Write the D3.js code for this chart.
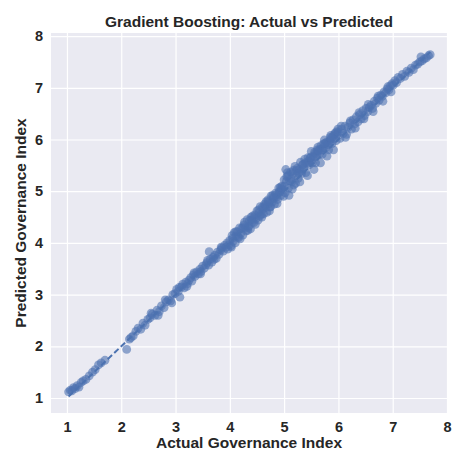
<!DOCTYPE html>
<html lang="en">
<head>
    <meta charset="UTF-8">
    <title>Gradient Boosting: Actual vs Predicted</title>
    <script src="https://d3js.org/d3.v7.min.js"></script>
    <style>
        body { margin: 0; background: #fff; }
        text { font-family: "Liberation Sans", Arial, sans-serif; font-weight: bold; fill: #262626; }
    </style>
</head>
<body>

<svg id="svg-container" width="453" height="452"></svg>
<script>

    // actual vs predicted governance index
    const actual = [
        1.03, 1.06, 1.09, 1.12, 1.15, 1.19, 1.22, 1.26, 1.30, 1.35, 1.41, 1.47, 1.52, 1.58, 1.63, 1.70,
        2.10, 2.15, 2.18, 2.22, 2.27, 2.31, 2.36, 2.40, 2.44, 2.49, 2.53, 2.57, 2.62, 2.66, 2.70, 2.74,
        2.79, 2.83, 2.87, 2.91, 2.95, 2.99,
        3.02, 3.05, 3.08, 3.11, 3.13, 3.16, 3.19, 3.22, 3.25, 3.28, 3.30, 3.33, 3.36, 3.39, 3.42, 3.45,
        3.47, 3.50, 3.53, 3.56, 3.58, 3.61, 3.64, 3.67, 3.69, 3.72, 3.75, 3.77, 3.80, 3.83, 3.85, 3.88,
        3.90, 3.93, 3.95, 3.98, 3.62,
        2.55, 2.68, 2.81, 2.93, 3.07, 3.21, 3.34, 3.46, 3.59, 3.71, 3.84, 3.96,
        4.00, 4.02, 4.04, 4.06, 4.08, 4.10, 4.12, 4.14, 4.16, 4.18, 4.20, 4.22, 4.24, 4.26, 4.28, 4.30,
        4.32, 4.34, 4.36, 4.38, 4.40, 4.42, 4.44, 4.46, 4.48, 4.50, 4.52, 4.54, 4.56, 4.58, 4.60, 4.62,
        4.64, 4.66, 4.68, 4.70, 4.72, 4.74, 4.76, 4.78, 4.80, 4.82, 4.84, 4.86, 4.88, 4.90, 4.92, 4.94,
        4.96, 4.98,
        4.05, 4.15, 4.25, 4.35, 4.45, 4.55, 4.65, 4.75, 4.85, 4.95, 4.41, 4.61, 4.81, 4.91, 4.71,
        4.03, 4.11, 4.19, 4.27, 4.33, 4.39, 4.47, 4.53, 4.59, 4.67, 4.73, 4.79, 4.87, 4.93, 4.99,
        5.00, 5.02, 5.04, 5.06, 5.08, 5.10, 5.12, 5.14, 5.16, 5.18, 5.20, 5.22, 5.24, 5.26, 5.28, 5.30,
        5.32, 5.34, 5.36, 5.38, 5.40, 5.42, 5.44, 5.46, 5.48, 5.50, 5.52, 5.54, 5.56, 5.58, 5.60, 5.62,
        5.64, 5.66, 5.68, 5.70, 5.72, 5.74, 5.76, 5.78, 5.80, 5.82, 5.84, 5.86, 5.88, 5.90, 5.92, 5.94,
        5.96, 5.98,
        5.01, 5.05, 5.09, 5.13, 5.17, 5.21, 5.27, 5.33, 5.39, 5.45, 5.51, 5.57, 5.63, 5.69, 5.75, 5.81,
        5.87, 5.93, 5.97, 5.03,
        5.07, 5.15, 5.23, 5.29, 5.35, 5.43, 5.49, 5.55, 5.61, 5.67, 5.73, 5.79, 5.85, 5.91, 5.99,
        6.00, 6.03, 6.06, 6.09, 6.12, 6.15, 6.18, 6.21, 6.24, 6.27, 6.30, 6.33, 6.36, 6.39, 6.42, 6.45,
        6.48, 6.51, 6.54, 6.57, 6.60, 6.63, 6.66, 6.69, 6.72, 6.75, 6.78, 6.81, 6.84, 6.87, 6.90, 6.93,
        6.96, 6.99,
        6.05, 6.13, 6.22, 6.31, 6.38, 6.47, 6.55, 6.64, 6.73, 6.82, 6.91, 6.97,
        7.01, 7.04, 7.07, 7.10, 7.14, 7.18, 7.22, 7.26, 7.30, 7.34, 7.38, 7.42, 7.46, 7.50, 7.54, 7.58,
        7.62, 7.66, 7.69, 7.52
    ];

    const predicted = [
        1.12, 1.15, 1.14, 1.20, 1.18, 1.24, 1.21, 1.30, 1.33, 1.36, 1.43, 1.50, 1.55, 1.64, 1.68, 1.73,
        1.94, 2.14, 2.17, 2.20, 2.29, 2.35, 2.33, 2.45, 2.41, 2.52, 2.55, 2.62, 2.60, 2.70, 2.67, 2.78,
        2.75, 2.86, 2.90, 2.88, 3.00, 3.02,
        3.10, 3.06, 2.95, 3.15, 3.20, 3.13, 3.24, 3.21, 3.28, 3.33, 3.26, 3.38, 3.35, 3.44, 3.40, 3.49,
        3.45, 3.55, 3.51, 3.58, 3.62, 3.57, 3.68, 3.63, 3.72, 3.76, 3.70, 3.82, 3.78, 3.86, 3.90, 3.84,
        3.95, 3.92, 4.00, 3.96, 3.83,
        2.64, 2.60, 2.90, 2.84, 3.14, 3.16, 3.42, 3.40, 3.66, 3.68, 3.92, 3.88,
        4.05, 3.94, 4.14, 4.03, 4.20, 4.00, 4.14, 4.22, 4.10, 4.29, 4.18, 4.28, 4.15, 4.35, 4.29, 4.23,
        4.45, 4.30, 4.43, 4.27, 4.44, 4.52, 4.39, 4.54, 4.47, 4.62, 4.44, 4.59, 4.70, 4.55, 4.69, 4.56,
        4.75, 4.68, 4.59, 4.83, 4.76, 4.69, 4.91, 4.79, 4.88, 4.75, 4.96, 4.89, 4.84, 5.06, 4.98, 4.92,
        5.10, 5.03,
        4.09, 4.12, 4.31, 4.33, 4.49, 4.52, 4.72, 4.70, 4.93, 5.05, 4.40, 4.66, 4.86, 4.99, 4.80,
        3.92, 4.22, 4.08, 4.40, 4.24, 4.50, 4.36, 4.64, 4.50, 4.80, 4.62, 4.92, 4.76, 5.08, 4.90,
        5.22, 4.97, 5.19, 5.36, 5.06, 5.20, 5.37, 5.18, 5.34, 5.12, 5.48, 5.30, 5.44, 5.25, 5.42, 5.56,
        5.34, 5.51, 5.45, 5.62, 5.36, 5.54, 5.65, 5.51, 5.64, 5.77, 5.55, 5.67, 5.75, 5.55, 5.71, 5.85,
        5.70, 5.81, 5.88, 5.71, 5.84, 5.99, 5.83, 5.95, 5.90, 5.80, 5.98, 6.08, 5.92, 6.06, 6.01, 6.13,
        5.98, 6.11,
        5.10, 5.28, 4.92, 5.24, 5.40, 5.15, 5.35, 5.40, 5.55, 5.58, 5.60, 5.72, 5.78, 5.80, 5.92, 5.94,
        6.02, 6.10, 6.15, 5.42,
        5.30, 5.04, 5.40, 5.18, 5.52, 5.30, 5.66, 5.42, 5.80, 5.55, 5.92, 5.68, 6.04, 5.80, 6.20,
        6.14, 6.02, 6.20, 6.12, 6.26, 6.10, 6.24, 6.32, 6.20, 6.38, 6.30, 6.44, 6.34, 6.48, 6.40, 6.56,
        6.46, 6.60, 6.54, 6.62, 6.66, 6.60, 6.74, 6.70, 6.80, 6.76, 6.86, 6.84, 6.92, 6.90, 6.98, 6.96,
        7.04, 7.08,
        6.26, 6.04, 6.36, 6.22, 6.52, 6.40, 6.68, 6.54, 6.84, 6.74, 7.02, 6.92,
        7.05, 7.14, 7.10, 7.20, 7.18, 7.26, 7.22, 7.32, 7.30, 7.38, 7.35, 7.44, 7.46, 7.50, 7.52, 7.56,
        7.58, 7.62, 7.64, 7.60
    ];

    const xTicks = [1, 2, 3, 4, 5, 6, 7, 8];
    const yTicks = [1, 2, 3, 4, 5, 6, 7, 8];

    window.onload = function () {

        const svg = d3.select("#svg-container");
        const left = 51, right = 447, top = 33, bottom = 413;
        const blue = "#4C72B0";

        const x = d3.scaleLinear().domain([0.706, 8.0]).range([left, right]);
        const y = d3.scaleLinear().domain([0.71, 8.06]).range([bottom, top]);

        // plot background
        svg.append("rect")
            .attr("x", left)
            .attr("y", top)
            .attr("width", right - left)
            .attr("height", bottom - top)
            .attr("fill", "#EAEAF2");

        // grid lines
        svg.append("g")
            .attr("transform", `translate(0,${bottom})`)
            .call(d3.axisBottom(x).tickValues(xTicks).tickSize(-(bottom - top)).tickFormat(""))
            .call(g => g.select(".domain").remove())
            .call(g => g.selectAll("line").attr("stroke", "#fff").attr("stroke-width", 1.2));

        svg.append("g")
            .attr("transform", `translate(${left},0)`)
            .call(d3.axisLeft(y).tickValues(yTicks).tickSize(-(right - left)).tickFormat(""))
            .call(g => g.select(".domain").remove())
            .call(g => g.selectAll("line").attr("stroke", "#fff").attr("stroke-width", 1.2));

        // tick labels
        const styleTicks = g => g.selectAll("text")
            .attr("font-family", "Liberation Sans, Arial, sans-serif")
            .attr("font-weight", "bold")
            .attr("font-size", 14.5)
            .attr("fill", "#262626");

        svg.append("g")
            .attr("transform", `translate(0,${bottom})`)
            .call(d3.axisBottom(x).tickValues(xTicks).tickSize(0).tickPadding(9).tickFormat(d3.format("d")))
            .call(g => g.select(".domain").remove())
            .call(styleTicks);

        svg.append("g")
            .attr("transform", `translate(${left},0)`)
            .call(d3.axisLeft(y).tickValues(yTicks).tickSize(0).tickPadding(8).tickFormat(d3.format("d")))
            .call(g => g.select(".domain").remove())
            .call(styleTicks);

        // points
        const data = actual.map((a, i) => ({a, p: predicted[i]}));

        svg.append("g")
            .selectAll("circle")
            .data(data)
            .enter()
            .append("circle")
            .attr("cx", d => x(d.a))
            .attr("cy", d => y(d.p))
            .attr("r", 4.4)
            .attr("fill", blue)
            .attr("fill-opacity", 0.6);

        // perfect prediction line
        const lo = d3.min(actual), hi = d3.max(actual);
        svg.append("line")
            .attr("x1", x(lo))
            .attr("y1", y(lo))
            .attr("x2", x(hi))
            .attr("y2", y(hi))
            .attr("stroke", blue)
            .attr("stroke-width", 2)
            .attr("stroke-dasharray", "6,3");

        // titles
        svg.append("text")
            .attr("x", (left + right) / 2)
            .attr("y", 27)
            .attr("text-anchor", "middle")
            .attr("font-size", 15.5)
            .text("Gradient Boosting: Actual vs Predicted");

        svg.append("text")
            .attr("x", (left + right) / 2)
            .attr("y", 448)
            .attr("text-anchor", "middle")
            .attr("font-size", 15.5)
            .text("Actual Governance Index");

        svg.append("text")
            .attr("transform", `translate(26,${(top + bottom) / 2}) rotate(-90)`)
            .attr("text-anchor", "middle")
            .attr("font-size", 15.5)
            .text("Predicted Governance Index");
    }

</script>

</body>
</html>
